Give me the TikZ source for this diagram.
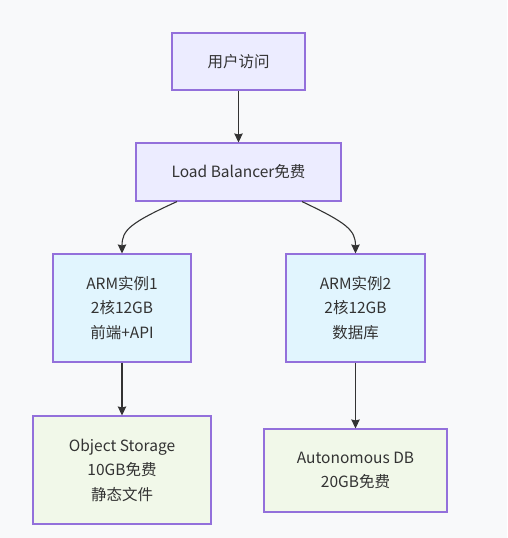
\documentclass[tikz,border=0pt]{standalone}
\usepackage{fontspec}
\setmainfont{Noto Sans CJK SC}
\usepackage{tikz}
\usetikzlibrary{arrows.meta,positioning,calc}
\definecolor{bggray}{HTML}{F8F9FA}
\definecolor{boxpurple}{HTML}{9370DB}
\definecolor{lavender}{HTML}{ECECFF}
\definecolor{lightcyan}{HTML}{E1F5FE}
\definecolor{lightgreen}{HTML}{F1F8E9}
\definecolor{edgegray}{HTML}{333333}
\definecolor{textgray}{HTML}{333333}

\begin{document}
\begin{tikzpicture}[
    x=1pt, y=-1pt,
    box/.style={draw=boxpurple, line width=1.1pt, align=center, inner sep=0pt,
                font=\fontsize{15.5}{24.5}\selectfont\color{textgray}},
    arrow/.style={-{Stealth[length=9pt, width=8.5pt, inset=1pt]}, line width=1.1pt, color=edgegray}
]
% --- background ---
\fill[bggray] (0,0) rectangle (507,538);
\useasboundingbox (0,0) rectangle (507,538);

% --- nodes ---
\node[box, fill=lavender, minimum width=133pt, minimum height=57pt]   (user) at (238.5,61.5) {用户访问};
\node[box, fill=lavender, minimum width=205pt, minimum height=58pt]   (lb)   at (238.5,172)  {Load Balancer免费};

\node[box, fill=lightcyan, minimum width=138pt, minimum height=108pt] (arm1) at (122,308)
  {ARM实例1\\2核12GB\\前端+API};
\node[box, fill=lightcyan, minimum width=139pt, minimum height=108pt] (arm2) at (355.5,308)
  {ARM实例2\\2核12GB\\数据库};

\node[box, fill=lightgreen, minimum width=178pt, minimum height=108pt] (oss)  at (122,470)
  {Object Storage\\10GB免费\\静态文件};
\node[box, fill=lightgreen, minimum width=183pt, minimum height=83pt]  (adb)  at (355.5,470.5)
  {Autonomous DB\\20GB免费};

% --- arrows ---
\draw[arrow] (user.south) -- (lb.north);
\draw[arrow] ([xshift=-61.5pt]lb.south) .. controls (130,223) and (122,230) .. (arm1.north);
\draw[arrow] ([xshift=63.5pt]lb.south) .. controls (347,223) and (355.5,230) .. (arm2.north);
\draw[arrow] (arm1.south) -- (oss.north);
\draw[arrow] (arm2.south) -- (adb.north);

\end{tikzpicture}
\end{document}
